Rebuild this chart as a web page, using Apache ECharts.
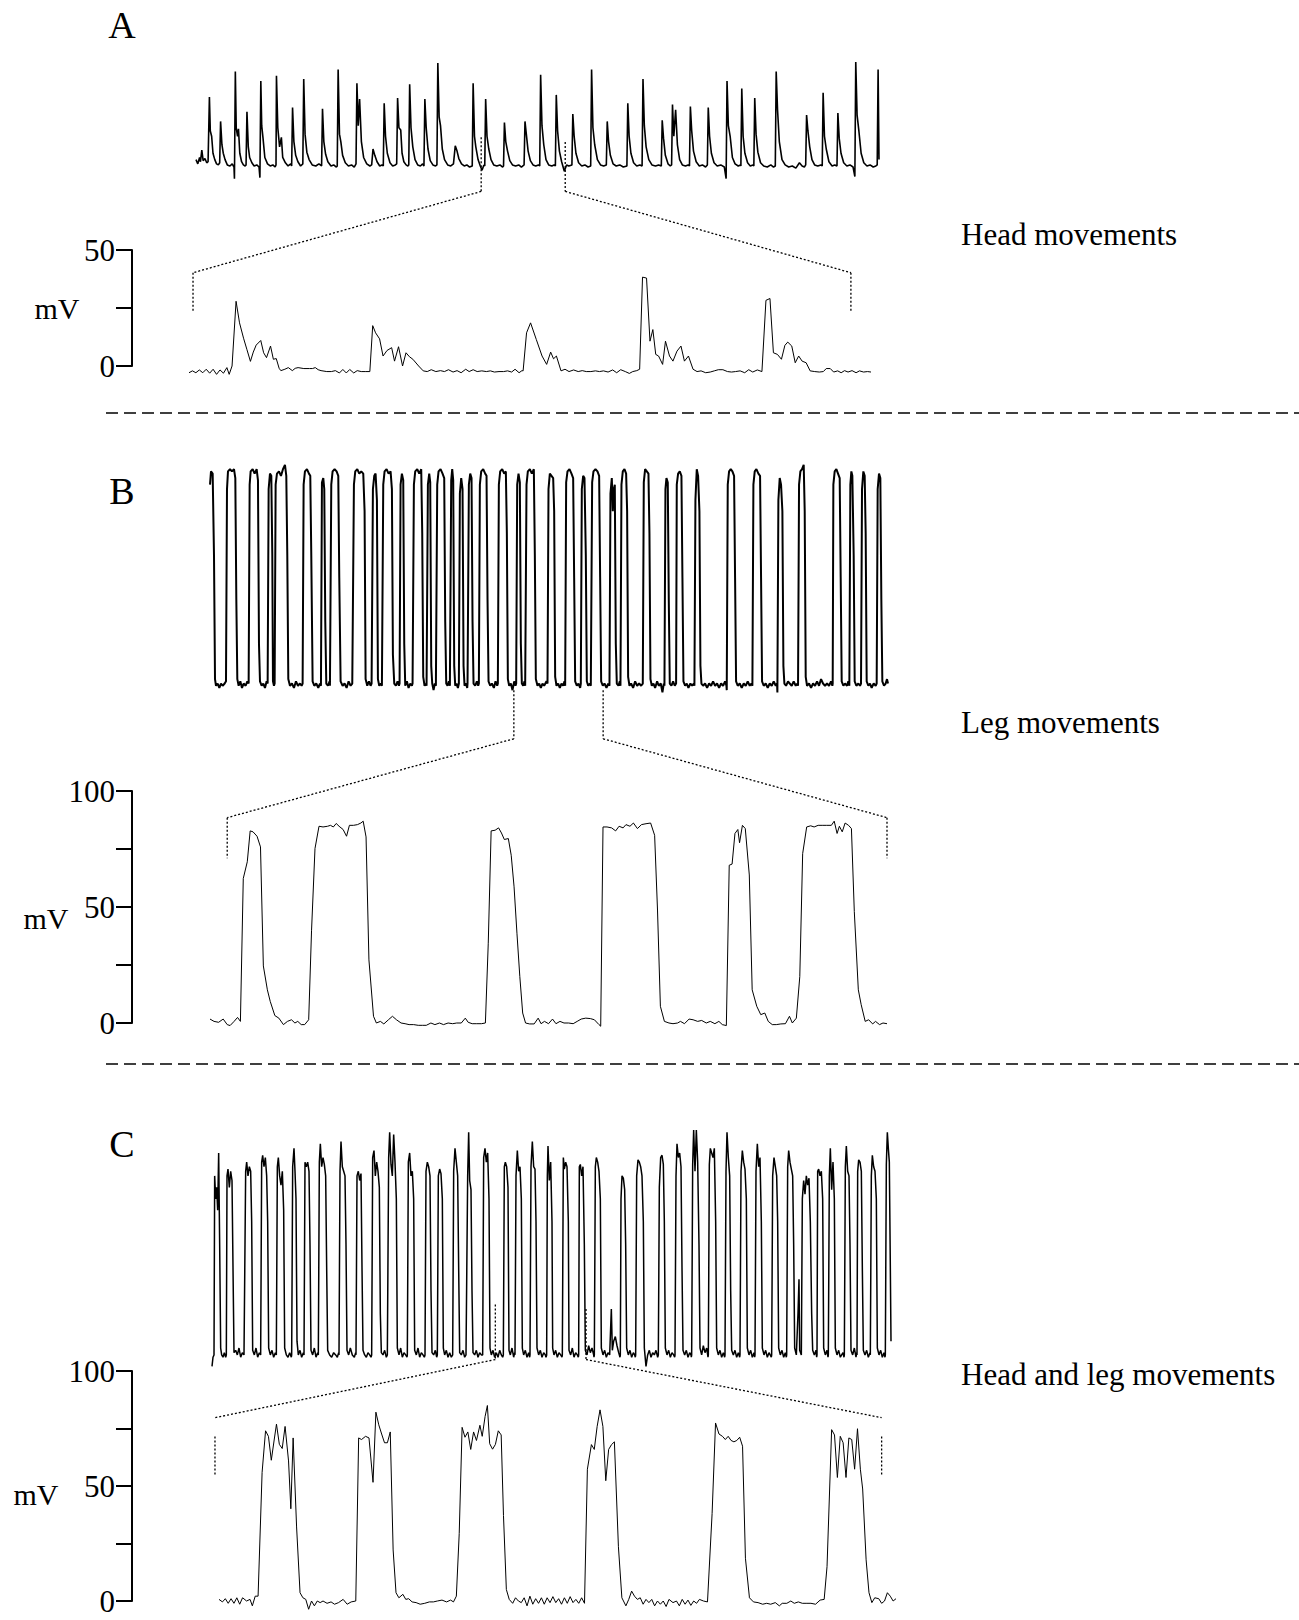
<!DOCTYPE html>
<html>
<head>
<meta charset="utf-8">
<script src="https://cdn.jsdelivr.net/npm/echarts@6/dist/echarts.min.js"></script>
<style>
html,body{margin:0;padding:0;background:#fff;}
#chart{width:1299px;height:1620px;}
</style>
</head>
<body>
<div id="chart"></div>
<script>
// ---------- DATA ----------
const panelLetters = ['A', 'B', 'C'];
const panelTitles = ['Head movements', 'Leg movements', 'Head and leg movements'];
const axisUnit = 'mV';
const zoomTickLabelsA = ['0', '50'];
const zoomTickLabelsBC = ['0', '50', '100'];

// Panel A overview: [time, relative amplitude]
const headOverview = [[12,8],[16,4],[20,10],[22,6],[25,17],[28,7],[32,9],[36,5],
[39,6],[42,67],[44,35],[47,30],[50,14],[54,8],[58,4],[62,3],
[65,5],[67,44],[70,22],[73,14],[77,8],[82,3],[88,2],[93,4],[97,1],
[98,-10],[100,91],[102,38],[105,30],[107,37],[110,14],[114,6],[118,3],[122,2],
[124,3],[126,53],[129,20],[132,10],[137,5],[142,2],[148,3],[153,1],
[155,-9],[157,82],[159,40],[162,28],[166,10],[172,4],[178,2],[184,3],[189,1],
[191,3],[192,87],[195,38],[199,20],[203,29],[206,10],[212,5],[218,2],[224,4],
[226,2],[228,57],[231,25],[235,12],[240,6],[246,2],
[251,4],[253,84],[256,32],[260,15],[265,8],[272,3],[280,2],[287,4],
[293,2],[295,56],[298,25],[302,13],[307,6],[314,2],[320,3],[326,1],
[328,2],[330,93],[333,32],[336,25],[340,12],[346,5],[353,2],[360,3],[366,1],
[370,4],[372,80],[375,40],[378,65],[382,25],[387,10],[394,4],[401,2],
[405,3],[408,18],[412,12],[417,6],[423,2],[428,3],
[431,2],[433,61],[436,30],[440,14],[446,5],[452,2],[458,3],
[461,4],[463,66],[466,38],[470,36],[473,14],[477,6],[482,3],[486,2],
[488,3],[490,79],[493,38],[497,20],[502,8],[508,3],[514,2],[519,4],
[522,2],[524,65],[527,38],[531,18],[536,7],[542,3],[548,2],
[551,3],[553,99],[556,48],[559,40],[563,18],[568,8],[575,3],[582,2],
[588,4],[592,21],[596,16],[600,9],[606,4],[612,2],[618,3],[624,1],
[630,2],[632,80],[635,30],[638,20],[643,8],[648,2],[652,-2],[656,3],
[658,2],[660,65],[663,30],[667,18],[672,8],[678,3],[685,2],[692,3],[698,1],
[700,2],[702,43],[705,25],[709,16],[714,7],[720,3],[727,2],[734,3],[740,1],
[746,3],[748,44],[751,32],[755,16],[760,7],[766,3],[772,2],[778,3],
[781,2],[783,88],[786,40],[790,22],[795,8],[801,3],[808,2],[813,3],
[816,2],[818,69],[821,35],[825,16],[830,6],[836,-3],[841,3],[846,2],
[853,3],[855,51],[858,30],[862,14],[868,5],[875,2],[882,3],[889,1],
[895,2],[897,93],[900,38],[904,22],[910,8],[917,3],[924,2],
[930,3],[932,44],[935,25],[939,12],[945,4],[952,2],[960,3],[968,1],
[976,2],[978,61],[981,30],[985,14],[991,5],[998,2],[1005,3],
[1010,2],[1012,84],[1015,40],[1019,20],[1025,8],[1032,3],[1040,2],[1047,3],
[1053,2],[1055,45],[1058,28],[1062,12],[1068,4],[1073,2],
[1076,3],[1078,60],[1081,30],[1085,55],[1089,22],[1094,8],[1100,3],[1107,2],[1113,3],
[1116,2],[1118,58],[1121,35],[1125,16],[1131,6],[1138,2],[1145,3],[1152,1],
[1156,3],[1158,57],[1161,30],[1165,14],[1171,5],[1178,2],[1186,3],[1194,1],
[1198,-10],[1200,82],[1203,40],[1207,30],[1212,10],[1218,4],[1225,2],[1230,3],
[1231,2],[1233,75],[1236,30],[1240,14],[1246,5],[1252,2],[1258,3],
[1260,2],[1262,66],[1265,32],[1269,15],[1275,5],[1282,2],[1290,1],[1298,3],[1304,1],
[1308,2],[1310,91],[1313,55],[1317,25],[1323,8],[1330,3],[1338,1],[1346,2],[1354,0],[1362,5],[1368,2],[1373,1],
[1376,3],[1378,50],[1381,35],[1385,20],[1390,8],[1396,3],[1403,2],[1410,3],
[1413,2],[1415,71],[1418,30],[1422,18],[1428,6],[1435,2],[1441,3],
[1446,2],[1448,52],[1451,28],[1455,14],[1461,5],[1468,2],[1475,3],[1482,1],
[1486,-8],[1488,100],[1491,50],[1495,35],[1500,14],[1506,5],[1513,2],[1520,3],[1527,1],[1533,2],
[1536,3],[1538,93],[1540,8]];

// Panel A zoomed trace: [time, mV]
const headZoom = [[330,-2.9],[336,-2.1],[342,-2.9],[348,-1.7],[354,-2.9],[360,-1.4],[366,-3.1],[372,-1.4],[378,-3.6],[384,-1.7],[390,-3.1],[396,-0.7],[400,-3.6],[405,0],[412,27.9],[418,18.6],[425,12],[431,7],[437,2],[442,6],[447,9],[455,11],[460,5.7],[465,3.6],[472,8.6],[477,2.9],[482,3.2],[487,-1],[490,-2],[497,-1.4],[503,-0.7],[510,-2],[515,-1],[520,-0.7],[530,-1.1],[540,-1.1],[545,-1.1],[550,-0.7],[555,-1.6],[560,-2],[570,-2.4],[578,-2.4],[585,-2],[592,-3],[598,-1.5],[604,-3],[610,-1.5],[617,-3],[623,-2],[630,-2.4],[638,-2.4],[645,-2.4],[650,17.4],[655,14.3],[662,11.7],[668,4.3],[675,6.7],[683,7.9],[688,2.1],[695,8.3],[702,0],[708,5.7],[714,4],[720,2.9],[730,0],[738,-2.1],[745,-2.4],[752,-1.6],[760,-2.4],[768,-2],[775,-2.4],[782,-1.6],[790,-2.6],[797,-2],[804,-2.9],[812,-1.4],[818,-2.4],[825,-1.6],[832,-2.4],[840,-2.1],[848,-2.4],[855,-2.1],[862,-2.6],[870,-2.4],[878,-2.4],[885,-2.1],[892,-2.6],[898,-1.4],[905,-2.9],[910,-2],[912,-2.1],[918,14.3],[925,18.6],[935,11.4],[945,4.3],[953,0.7],[960,6],[965,3.1],[970,4.3],[978,-2.1],[985,-1.4],[992,-2.4],[1000,-1.7],[1008,-2.4],[1015,-2],[1022,-2.4],[1030,-2.4],[1038,-2.1],[1045,-2.4],[1052,-2.1],[1060,-2.6],[1068,-1.7],[1075,-2.9],[1082,-1.6],[1090,-2.4],[1097,-3.2],[1103,-2.4],[1110,-2],[1115,-1.4],[1120,38.3],[1127,37.9],[1133,10.7],[1138,15.7],[1143,5],[1148,4.3],[1155,0.7],[1160,10.7],[1167,4.3],[1173,2.1],[1180,6.4],[1187,8.6],[1193,2.1],[1200,4.3],[1208,-1.4],[1215,-2.4],[1222,-2.1],[1230,-2.9],[1238,-2.6],[1245,-2.1],[1252,-1.6],[1260,-1.6],[1268,-2.4],[1275,-2.6],[1282,-2.4],[1290,-2.1],[1298,-2.9],[1305,-1.6],[1312,-2.6],[1320,-1.7],[1328,-2.4],[1335,28.3],[1342,29.1],[1348,5.7],[1355,5],[1362,2.9],[1368,8.9],[1373,10.3],[1380,8.6],[1386,1.4],[1392,4.3],[1398,2.1],[1405,1.4],[1412,-2.1],[1420,-2.4],[1428,-2.6],[1435,-2.4],[1440,-1.1],[1447,-1.1],[1453,-2.6],[1460,-2.1],[1466,-2.9],[1472,-2],[1478,-2.6],[1485,-2],[1492,-2.9],[1498,-2.1],[1505,-2.6],[1512,-2.4],[1518,-2.6]];

// Panel B overview: [time, relative amplitude]
const legOverview = [[30,92],[33,98],[38,97],[42,60],[45,4],[48,1],[53,2],[58,0],[63,2],[68,1],[74,2],
[78,3],[81,90],[84,98],[90,99],[96,98],[102,99],[106,95],[109,40],[112,4],[116,1],[121,3],[126,0],[131,2],[137,1],[142,3],
[146,2],[149,92],[152,98],[158,99],[164,97],[170,99],[174,94],[177,20],[180,3],[185,1],[190,2],[195,0],[200,3],
[203,2],[206,90],[210,97],[214,96],[217,60],[219,3],[222,1],
[224,2],[227,92],[231,97],[237,98],[243,96],[249,99],[255,101],[259,96],[262,60],[265,4],[270,1],[276,2],[282,0],[288,3],[294,1],[300,2],[305,1],
[308,2],[311,92],[315,98],[321,99],[327,97],[331,96],[334,60],[338,3],[343,1],[349,2],[355,0],[360,2],
[363,1],[366,93],[370,95],[373,90],[376,30],[379,2],[384,1],[389,3],
[390,1],[394,92],[398,98],[404,99],[410,98],[415,96],[418,50],[422,3],[428,1],[434,2],[440,0],[446,3],[452,1],[457,2],
[458,2],[462,92],[466,98],[472,99],[478,97],[484,98],[490,97],[494,80],[497,4],[502,1],[507,3],[512,1],
[515,2],[519,90],[523,96],[527,97],[531,85],[534,4],[538,1],[543,2],
[546,1],[550,92],[554,98],[560,99],[566,97],[572,98],[576,90],[579,15],[583,2],[588,1],[593,3],[597,1],
[599,2],[602,92],[606,97],[610,94],[613,20],[616,1],[621,3],[626,0],[631,2],[636,1],
[638,2],[642,92],[646,98],[652,99],[658,97],[664,99],[667,70],[670,5],[674,1],[678,2],
[680,1],[684,92],[688,97],[691,93],[694,10],[697,2],[701,-1],[705,2],
[708,1],[712,92],[716,98],[722,99],[728,97],[733,95],[736,30],[739,2],[743,1],[747,3],
[750,1],[754,94],[757,99],[760,94],[763,10],[766,1],[770,2],[774,0],
[777,2],[780,88],[784,95],[788,90],[791,10],[794,1],[799,2],[802,0],
[803,2],[807,92],[811,97],[815,95],[818,30],[821,2],[826,1],[831,3],[835,1],
[837,2],[840,92],[844,98],[850,99],[856,97],[860,96],[863,40],[866,3],[871,1],[876,2],[882,0],[887,3],[892,1],
[894,2],[897,92],[901,98],[907,99],[913,97],[918,98],[921,70],[924,4],[928,1],[933,2],[938,-1],[943,3],[947,1],
[949,2],[952,92],[956,97],[960,93],[963,20],[966,2],[970,1],[974,3],
[976,1],[980,92],[984,98],[990,99],[996,97],[1002,99],[1005,60],[1008,4],[1013,1],[1018,2],[1023,0],[1028,2],[1033,1],[1040,3],
[1043,2],[1046,90],[1050,97],[1055,96],[1060,95],[1063,80],[1066,5],[1070,1],[1075,2],[1080,0],[1085,2],[1090,1],[1094,3],
[1096,1],[1099,93],[1103,98],[1109,99],[1115,97],[1120,95],[1123,50],[1126,3],[1131,1],[1136,2],[1141,0],
[1143,2],[1146,90],[1150,96],[1154,95],[1158,60],[1161,3],[1165,1],[1170,2],
[1173,1],[1177,93],[1181,98],[1187,99],[1193,98],[1198,96],[1201,50],[1204,3],[1209,1],[1214,2],[1220,0],[1225,2],
[1229,1],[1232,88],[1236,95],[1239,80],[1242,90],[1245,92],[1248,20],[1251,2],[1256,1],[1260,3],
[1262,1],[1265,92],[1269,98],[1274,99],[1279,97],[1282,80],[1285,5],[1289,1],[1294,2],[1300,0],[1306,3],[1312,1],[1318,2],[1324,1],
[1329,2],[1332,93],[1336,99],[1341,98],[1346,97],[1349,70],[1352,4],[1356,1],[1361,2],[1366,0],[1372,3],[1377,1],[1383,2],[1388,-2],[1392,2],
[1394,1],[1397,90],[1400,95],[1404,93],[1407,40],[1410,2],[1415,1],[1420,3],[1425,1],
[1429,2],[1431,92],[1435,97],[1440,98],[1445,96],[1448,50],[1451,3],[1456,1],[1461,2],[1466,0],[1472,2],[1477,1],[1482,2],
[1484,1],[1487,85],[1491,99],[1495,96],[1499,80],[1502,10],[1505,2],[1510,1],[1516,2],[1522,0],[1528,2],[1534,1],[1540,3],[1546,1],[1552,2],[1558,0],[1564,2],[1570,1],[1576,3],[1580,1],
[1581,-1],[1584,92],[1588,98],[1593,99],[1598,98],[1603,96],[1606,50],[1609,3],[1614,1],[1620,2],[1626,0],[1632,2],[1638,1],[1644,3],[1650,1],[1655,2],
[1658,1],[1661,92],[1665,98],[1670,99],[1676,97],[1681,96],[1684,50],[1687,3],[1692,1],[1698,2],[1704,0],[1710,2],[1716,1],[1722,3],[1728,1],[1732,2],
[1733,-2],[1736,85],[1740,95],[1744,92],[1748,80],[1751,10],[1754,2],[1759,1],[1765,3],[1770,2],[1776,1],[1782,3],[1788,1],[1793,2],
[1795,1],[1798,92],[1802,98],[1807,99],[1812,101],[1815,80],[1818,5],[1822,1],[1828,2],[1834,0],[1840,2],[1846,1],[1852,3],[1858,1],[1864,4],[1870,2],[1876,1],[1882,2],[1888,1],[1894,3],[1898,1],
[1899,2],[1901,92],[1905,98],[1910,99],[1915,97],[1920,95],[1923,50],[1926,3],[1931,1],[1936,2],[1942,1],[1946,3],
[1949,1],[1952,92],[1955,98],[1958,96],[1962,60],[1965,3],[1970,1],[1976,2],[1981,1],
[1984,2],[1987,90],[1991,98],[1995,96],[1998,70],[2001,3],[2006,1],[2011,2],[2016,0],[2022,2],[2028,1],
[2031,2],[2034,90],[2038,97],[2042,95],[2045,40],[2048,3],[2053,1],[2058,2],[2062,4],[2065,2]];

// Panel B zoomed trace: [time, mV]
const legZoom = [[365,1.7],[372,0.7],[380,0.3],[388,1.7],[395,-0.7],[400,-1.1],[407,0.7],[413,2.4],[418,0.7],[423,62.3],[430,69.5],[435,82.8],[440,82.4],[447,80.5],[453,75.9],[458,24.6],[465,14.3],[470,9.3],[478,3.2],[485,2.1],[493,-0.7],[500,0.7],[507,1.4],[513,0],[518,0.7],[524,-0.7],[530,-0.7],[537,1.4],[542,40],[548,75.2],[555,84.8],[562,84.5],[570,84.8],[575,85.2],[580,84.5],[585,86],[590,84.8],[597,83.4],[603,80.5],[608,85.2],[615,85.2],[622,85.5],[628,86.2],[632,87],[637,80.2],[642,27.2],[650,2.9],[655,0],[662,0.7],[668,-0.4],[676,1.4],[683,2.9],[690,1.4],[698,0],[705,-0.3],[712,-0.7],[720,-0.7],[728,-1],[735,-1],[742,-1],[750,0],[757,-0.7],[765,0],[772,-0.7],[780,0],[788,-0.3],[795,0],[803,0],[810,2.1],[815,0.3],[822,-0.3],[830,-0.3],[838,-0.3],[845,0],[850,34.4],[855,82.8],[862,83.1],[868,84.1],[873,81.9],[878,79.1],[885,79.5],[890,72.3],[895,58.7],[900,38.7],[905,20],[910,4.3],[915,0],[922,-0.4],[930,-0.4],[937,2.1],[942,-0.3],[948,0.7],[955,-0.3],[962,1.7],[968,-0.3],[975,0.7],[982,0],[990,0],[998,-0.3],[1005,0.7],[1012,1.7],[1020,2.1],[1028,1.9],[1035,1.4],[1043,-0.7],[1046,-1.4],[1050,84.5],[1057,84.5],[1065,84.1],[1072,82.8],[1078,84.8],[1085,84.1],[1090,85.5],[1097,84.8],[1103,86.2],[1110,83.8],[1117,85.5],[1125,85.9],[1133,86.2],[1140,80.9],[1145,48.7],[1150,7.2],[1157,0.7],[1165,0],[1172,-0.3],[1180,0],[1185,0.7],[1192,-0.3],[1200,1.7],[1207,1.4],[1215,0.7],[1222,1.1],[1230,0],[1237,0.7],[1245,-0.3],[1252,0.7],[1258,-0.7],[1265,-1.1],[1270,68],[1275,68.5],[1280,81.7],[1285,83.4],[1288,77.7],[1293,85.2],[1298,83.8],[1305,63.8],[1310,14.3],[1318,7.2],[1325,3.6],[1332,4.3],[1338,0.7],[1345,-0.7],[1352,-0.7],[1360,-0.4],[1368,-0.3],[1375,2.9],[1380,0],[1387,2.1],[1393,20],[1398,73],[1405,84.5],[1412,85],[1418,84.5],[1425,85.2],[1432,85.2],[1440,85.2],[1448,85.2],[1453,87],[1458,81.7],[1462,84.8],[1467,82.4],[1472,86.2],[1478,85.2],[1483,83.8],[1488,48],[1495,14.3],[1500,7.9],[1507,0.7],[1513,1.4],[1520,-0.4],[1525,0.7],[1532,-0.7],[1538,0],[1545,-0.3]];

// Panel C overview: [time, relative amplitude]
const bothOverview = [[35,-3],[38,1],[41,2],[43,80],[46,70],[49,75],[52,65],[55,90],[58,50],[61,5],[64,2],[68,1],[72,3],[76,1],
[78,2],[80,80],[83,83],[87,75],[91,82],[95,78],[98,40],[101,3],[106,4],[111,2],[116,5],[121,1],[126,3],[131,2],
[133,2],[136,82],[139,86],[143,80],[147,84],[151,82],[154,60],[157,4],[162,2],[167,5],[172,1],[177,3],
[181,2],[184,86],[187,89],[191,84],[195,88],[199,80],[202,60],[205,5],[210,2],[215,4],[220,1],[225,3],
[228,2],[231,84],[234,88],[238,80],[242,76],[246,82],[250,65],[253,5],[258,2],[263,1],[268,3],[273,1],
[274,2],[277,84],[281,92],[284,82],[287,70],[290,8],[294,2],[299,4],[304,1],[309,3],
[311,2],[314,86],[318,84],[322,86],[326,82],[329,50],[332,4],[337,2],[342,5],[347,1],[352,3],
[354,2],[357,86],[360,94],[364,84],[368,88],[372,85],[376,80],[379,40],[382,4],[388,2],[394,1],[400,3],[406,2],[411,1],[415,3],
[416,2],[419,82],[422,95],[426,84],[430,82],[434,80],[437,50],[440,4],[445,2],[450,5],[456,2],[462,1],[466,3],
[467,2],[470,80],[474,82],[478,78],[482,81],[485,40],[488,4],[493,2],[498,1],[503,3],[508,2],[512,1],
[514,2],[517,88],[521,91],[525,80],[529,86],[533,82],[537,75],[540,20],[543,3],[548,2],[553,4],[558,1],
[561,2],[565,88],[568,99],[572,85],[576,80],[580,98],[584,86],[588,70],[591,5],[596,2],[601,5],[606,1],[611,3],[616,2],[620,1],
[621,2],[624,86],[628,90],[632,80],[636,82],[640,70],[643,4],[648,2],[653,5],[658,1],[663,3],[668,2],[672,1],
[674,2],[677,82],[681,86],[685,84],[689,80],[692,30],[695,3],[700,2],[705,4],[709,1],
[711,2],[714,80],[718,83],[722,81],[726,70],[729,5],[733,2],[738,4],[743,1],[748,3],[753,1],
[757,2],[760,82],[764,92],[768,86],[772,80],[775,40],[778,3],[783,2],[788,4],[793,1],[797,2],
[799,2],[802,80],[805,99],[808,78],[812,74],[815,30],[818,3],[823,2],[828,4],[833,1],[838,3],[843,2],
[847,2],[850,88],[854,92],[858,86],[862,90],[866,70],[869,5],[873,2],[878,4],[883,1],[888,3],[893,1],[898,4],[903,2],[907,1],
[909,2],[912,84],[915,86],[919,84],[923,75],[926,4],[930,2],[935,5],[940,1],[943,3],
[944,2],[947,80],[951,91],[955,82],[959,84],[963,70],[966,5],[970,2],[975,4],[980,1],[985,3],[988,1],
[989,2],[992,84],[996,95],[1000,84],[1004,83],[1007,60],[1010,5],[1015,2],[1020,4],[1025,1],[1030,3],[1035,2],[1037,1],
[1039,2],[1041,80],[1043,93],[1047,78],[1051,86],[1055,60],[1057,5],[1061,2],[1066,4],[1071,1],[1076,3],[1081,2],[1085,1],
[1086,2],[1089,88],[1092,83],[1096,86],[1100,84],[1104,60],[1106,4],[1111,2],[1116,5],[1121,1],[1126,3],[1131,2],[1134,1],
[1135,2],[1137,84],[1140,85],[1144,80],[1148,84],[1152,50],[1155,4],[1160,2],[1165,6],[1170,3],[1175,5],[1180,2],[1181,1],
[1182,2],[1185,84],[1188,88],[1192,86],[1196,82],[1200,70],[1203,5],[1208,2],[1213,4],[1218,1],[1223,3],[1228,2],[1233,22],[1236,4],[1240,8],[1245,10],[1250,6],[1255,3],[1259,1],
[1260,2],[1262,70],[1265,80],[1269,79],[1273,74],[1276,50],[1279,5],[1284,2],[1289,4],[1294,1],[1299,3],[1303,2],[1305,1],
[1306,2],[1309,80],[1313,87],[1317,86],[1321,84],[1325,80],[1329,60],[1332,5],[1337,-3],[1342,2],[1347,4],[1352,1],[1357,3],[1362,2],[1367,4],[1372,1],
[1374,2],[1377,75],[1381,88],[1385,89],[1389,85],[1392,60],[1395,5],[1400,2],[1405,4],[1410,1],[1415,3],[1420,2],[1423,1],
[1424,2],[1427,80],[1430,94],[1434,88],[1438,90],[1442,84],[1445,40],[1448,4],[1453,2],[1458,4],[1463,1],[1468,3],[1472,2],[1473,1],
[1474,2],[1477,85],[1480,100],[1484,82],[1488,100],[1492,86],[1496,50],[1499,5],[1504,2],[1509,6],[1514,3],[1519,5],[1523,1],
[1524,2],[1527,85],[1530,92],[1534,90],[1538,88],[1542,92],[1546,60],[1549,5],[1554,2],[1559,4],[1564,1],[1569,3],[1573,1],
[1574,2],[1577,82],[1580,99],[1584,88],[1588,80],[1591,30],[1594,4],[1599,2],[1604,4],[1609,1],[1614,3],[1618,1],
[1619,2],[1622,82],[1626,91],[1630,86],[1634,83],[1638,70],[1641,5],[1646,2],[1651,4],[1656,1],[1661,3],[1663,1],
[1664,2],[1667,82],[1671,94],[1675,84],[1679,88],[1683,60],[1686,5],[1691,2],[1696,4],[1701,1],[1706,3],[1713,1],
[1714,2],[1717,80],[1721,88],[1725,84],[1729,80],[1732,60],[1735,5],[1740,2],[1745,4],[1750,1],[1755,3],[1758,1],
[1759,2],[1762,84],[1765,91],[1769,86],[1773,83],[1777,80],[1780,50],[1783,5],[1788,2],[1793,20],[1796,35],[1798,4],
[1803,2],[1806,70],[1810,78],[1814,72],[1818,80],[1822,76],[1826,79],[1830,60],[1834,20],[1837,4],[1842,2],[1847,4],[1849,1],
[1850,2],[1852,82],[1855,83],[1859,80],[1863,82],[1867,70],[1870,5],[1875,2],[1880,4],[1883,1],
[1884,2],[1887,80],[1890,92],[1894,74],[1898,86],[1902,70],[1905,5],[1910,2],[1915,4],[1920,1],[1928,3],[1931,1],
[1932,2],[1935,84],[1938,93],[1942,82],[1946,80],[1949,50],[1952,4],[1957,2],[1962,5],[1967,1],[1969,3],
[1970,2],[1972,82],[1975,87],[1979,86],[1983,82],[1986,40],[1989,4],[1994,2],[1999,4],[2004,1],[2009,3],
[2010,2],[2013,80],[2016,89],[2020,84],[2024,82],[2028,70],[2031,5],[2036,2],[2041,4],[2046,1],[2051,3],[2054,1],
[2055,2],[2058,85],[2061,99],[2064,92],[2067,86],[2070,40],[2072,8]];

// Panel C zoomed trace: [time, mV]
const bothZoom = [[382,0.7],[388,-0.4],[393,1],[398,-1],[403,1],[408,-1],[413,1.4],[418,-1.4],[423,1.4],[430,0],[436,0.7],[440,-2.1],[445,2.1],[450,2.1],[457,55.9],[463,74],[468,71.6],[473,61.2],[478,70],[482,76.9],[487,68.1],[492,66.3],[497,75.9],[503,60.9],[507,40.1],[511,70.9],[517,32.2],[523,3.6],[528,1.4],[533,0.7],[538,-3.6],[543,0],[548,-2.1],[553,0],[558,-0.7],[563,0],[570,-1],[577,-0.4],[583,-1.4],[590,-0.7],[598,0.7],[605,-1.4],[612,-0.4],[620,0],[625,70.9],[630,70.2],[637,71.6],[643,70.9],[650,51.6],[655,82.1],[660,76.6],[665,72.6],[670,68.8],[675,68.8],[680,73.5],[685,22.2],[690,3.6],[695,1.4],[702,2.9],[707,0.7],[712,1],[718,-0.4],[725,-0.7],[732,-1.4],[740,-1],[748,-0.4],[755,-0.4],[762,0],[770,0.4],[778,-0.4],[785,0.4],[790,-0.4],[795,2.1],[800,29.4],[805,75.5],[810,71.2],[815,73.5],[820,65.9],[825,73.5],[830,69.8],[836,76.4],[840,71.6],[845,80.2],[849,85],[853,68.4],[858,66],[863,68.1],[868,74],[873,72.2],[877,37.2],[882,5],[887,0.7],[893,-1],[898,1.4],[903,0],[908,-0.7],[913,1.4],[918,-2.1],[923,2.1],[928,-1.4],[933,1],[938,-1],[943,1.4],[948,-1.4],[953,1.4],[958,-0.7],[963,1.9],[968,-0.7],[973,1],[978,-1.4],[983,1.4],[988,-1],[993,1.9],[998,-0.7],[1003,0.7],[1008,-1],[1013,1.4],[1018,-1],[1023,57.3],[1030,68],[1035,65.9],[1040,75.9],[1045,83.1],[1050,75.9],[1055,52.3],[1060,65.9],[1065,68],[1070,69.2],[1077,23.6],[1083,1.4],[1090,-2.1],[1095,0.7],[1100,4.3],[1105,2.1],[1110,0.7],[1115,1.4],[1120,-1.4],[1125,0.7],[1130,-0.7],[1135,0.7],[1140,-2.1],[1145,0],[1150,-1.4],[1155,0],[1160,-2.4],[1165,0.7],[1172,-0.7],[1178,0],[1183,-2.1],[1188,0.7],[1193,-1.4],[1198,0.4],[1203,-1.9],[1208,0],[1213,-1],[1218,0.7],[1225,0],[1232,-0.4],[1240,38],[1246,77.4],[1252,72.6],[1258,71.6],[1263,70.2],[1268,71.6],[1273,69.8],[1278,69.2],[1283,69.8],[1288,71.2],[1293,67.3],[1298,18.6],[1305,1.4],[1312,-0.4],[1320,-0.7],[1328,-1.4],[1335,-1],[1342,-1.4],[1350,-0.7],[1357,-2.1],[1362,-1],[1370,-1],[1377,0],[1383,-1],[1390,-0.4],[1397,-1],[1405,-1],[1412,-1],[1420,-1.4],[1428,0.4],[1435,0.7],[1440,15],[1448,74.5],[1453,72.2],[1458,53.7],[1463,71.6],[1468,68.8],[1473,53.7],[1478,70.9],[1483,70.2],[1488,57.3],[1493,74.9],[1498,57.3],[1502,48.7],[1508,17.9],[1513,3.6],[1518,-0.7],[1523,1.4],[1530,1],[1535,-1],[1540,0],[1545,3.6],[1550,2.1],[1555,0],[1560,1]];

// Zoom windows (overview time) and matching zoomed-trace ends
const zoomWindowStart = [650, 942, 885];
const zoomWindowEnd = [838, 1210, 1157];
const zoomTraceLeft = [337, 395, 375];
const zoomTraceRight = [1483, 1545, 1535];

// ---------- CHART ----------
const FONT = 'Liberation Serif';
const chart = echarts.init(document.getElementById('chart'), null, {renderer: 'svg', width: 1299, height: 1620});

const grids = [
  {left: 196, top: 62, width: 683, height: 122},
  {left: 189, top: 250, width: 682, height: 116},
  {left: 210, top: 467, width: 678, height: 232},
  {left: 210, top: 791, width: 677, height: 232},
  {left: 212, top: 1130, width: 679, height: 241},
  {left: 219, top: 1371, width: 677, height: 230}
];
const xRanges = [[12, 1540], [330, 1518], [30, 2065], [365, 1545], [35, 2072], [382, 1560]];
const yRanges = [[-15, 100], [0, 50], [-5, 100], [0, 100], [-5, 100], [0, 100]];
const axisX = 132;
const overviewWidths = [1.6, 0, 2, 0, 1.5, 0];

function zoomYAxis(i, labels) {
  return {
    gridIndex: i, type: 'value', min: yRanges[i][0], max: yRanges[i][1], interval: 25,
    offset: grids[i].left - axisX,
    axisLine: {show: true, lineStyle: {color: '#000', width: 2}},
    axisTick: {show: true, inside: false, length: 16, lineStyle: {color: '#000', width: 2}},
    splitLine: {show: false},
    axisLabel: {
      margin: 17, color: '#000', fontFamily: FONT, fontSize: 31, lineHeight: 22,
      formatter: v => labels.indexOf(String(v)) >= 0 ? String(v) : ''
    }
  };
}

const xAxes = grids.map((g, i) => ({gridIndex: i, type: 'value', min: xRanges[i][0], max: xRanges[i][1], show: false}));
const yAxes = grids.map((g, i) => {
  if (i === 1) return zoomYAxis(i, zoomTickLabelsA);
  if (i === 3 || i === 5) return zoomYAxis(i, zoomTickLabelsBC);
  return {gridIndex: i, type: 'value', min: yRanges[i][0], max: yRanges[i][1], show: false};
});

const traces = [headOverview, headZoom, legOverview, legZoom, bothOverview, bothZoom];
const series = traces.map((d, i) => ({
  type: 'line', xAxisIndex: i, yAxisIndex: i, data: d, showSymbol: false, symbol: 'none',
  clip: false, silent: true,
  lineStyle: {color: '#000', width: (i % 2 === 0) ? overviewWidths[i] : 1}
}));

function txt(x, y, text, size, align) {
  return {type: 'text', x: x, y: y, style: {text: text, fontFamily: FONT, fontSize: size, fill: '#000', textAlign: align, textVerticalAlign: 'middle'}};
}
const textGraphics = [];
const letterY = [25, 491, 1144];
const titleY = [234, 722, 1374];
const unitPos = [[57, 308], [46, 918], [36, 1494]];
for (let p = 0; p < 3; p++) {
  textGraphics.push(txt(122, letterY[p], panelLetters[p], 38, 'center'));
  textGraphics.push(txt(961, titleY[p], panelTitles[p], 31, 'left'));
  textGraphics.push(txt(unitPos[p][0], unitPos[p][1], axisUnit, 30, 'center'));
}
// dashed separators
[413, 1064].forEach(y => {
  textGraphics.push({type: 'line', shape: {x1: 106, y1: y, x2: 1299, y2: y}, style: {stroke: '#000', lineWidth: 1.5, lineDash: [12, 6]}});
});

chart.setOption({
  animation: false,
  backgroundColor: '#fff',
  textStyle: {fontFamily: FONT},
  grid: grids,
  xAxis: xAxes,
  yAxis: yAxes,
  series: series,
  graphic: textGraphics
});

// connectors (dotted) computed from the axes
const conn = [];
const dotted = {stroke: '#000', lineWidth: 1.3, lineDash: [2, 2]};
function px(g, t, v) { return chart.convertToPixel({gridIndex: g}, [t, v]); }
function seg(a, b) { conn.push({type: 'line', shape: {x1: a[0], y1: a[1], x2: b[0], y2: b[1]}, style: dotted}); }
const ovTop = [[29, 24.5], [-1, -1], [24, 22]];
const ovBottom = [-22, -23, 0];
const zmTop = [40.2, 88.5, 79.7];
const zmVert = [[40.2, 23.3], [88.5, 71], [71.5, 54.3]];
for (let p = 0; p < 3; p++) {
  const og = p * 2, zg = p * 2 + 1;
  const ends = [[zoomWindowStart[p], zoomTraceLeft[p], ovTop[p][0]], [zoomWindowEnd[p], zoomTraceRight[p], ovTop[p][1]]];
  ends.forEach(([tOv, tZm, vTop]) => {
    const a = px(og, tOv, vTop), b = px(og, tOv, ovBottom[p]);
    seg(a, b);
    const c = px(zg, tZm, zmTop[p]);
    seg(b, c);
    seg(px(zg, tZm, zmVert[p][0]), px(zg, tZm, zmVert[p][1]));
  });
}
chart.setOption({graphic: textGraphics.concat(conn)});
</script>
</body>
</html>
